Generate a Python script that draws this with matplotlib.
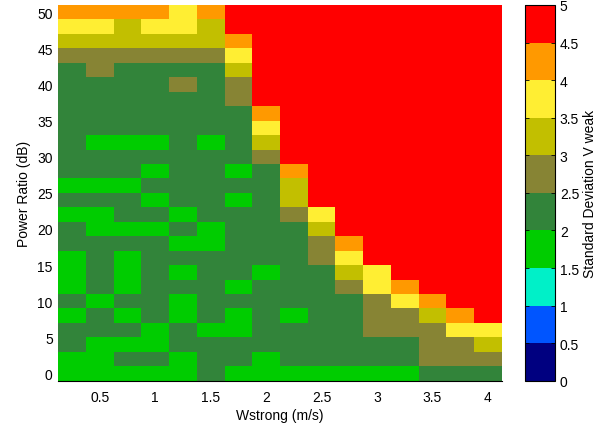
import numpy as np
import matplotlib
matplotlib.use("Agg")
import matplotlib.pyplot as plt
from matplotlib.colors import ListedColormap, BoundaryNorm
from matplotlib.ticker import FormatStrFormatter

plt.rcParams['font.family'] = ['Liberation Sans', 'DejaVu Sans']

# Standard deviation levels (middle of each colour band)
bg, dg, ol, yo, yl, orn, rd = 1.75, 2.25, 2.75, 3.25, 3.75, 4.25, 4.75

# Grid axes
wstrong = [0.25, 0.5, 0.75, 1.0, 1.25, 1.5, 1.75, 2.0,
           2.25, 2.5, 2.75, 3.0, 3.25, 3.5, 3.75, 4.0]
power_ratio = [0, 2, 4, 6, 8, 10, 12, 14, 16, 18, 20, 22, 24,
               26, 28, 30, 32, 34, 36, 38, 40, 42, 44, 46, 48, 50]

# Standard deviation of V weak, one row per power ratio (0 dB upward)
std_v_weak = [
    [bg, bg, bg, bg, bg, dg, bg, bg, bg, bg, bg, bg, bg, dg, dg, dg],  # 0
    [bg, bg, dg, dg, bg, dg, dg, bg, dg, dg, dg, dg, dg, ol, ol, ol],  # 2
    [dg, bg, bg, bg, dg, dg, dg, dg, dg, dg, dg, dg, dg, ol, ol, yo],  # 4
    [dg, dg, dg, bg, dg, bg, bg, dg, dg, dg, dg, ol, ol, ol, yl, yl],  # 6
    [bg, dg, bg, dg, bg, dg, bg, dg, bg, dg, dg, ol, ol, yo, orn, rd],  # 8
    [dg, bg, dg, dg, bg, dg, dg, dg, dg, dg, dg, ol, yl, orn, rd, rd],  # 10
    [bg, dg, bg, dg, dg, dg, bg, dg, dg, dg, ol, yl, orn, rd, rd, rd],  # 12
    [bg, dg, bg, dg, bg, dg, dg, bg, dg, dg, yo, yl, rd, rd, rd, rd],  # 14
    [bg, dg, bg, dg, dg, dg, dg, dg, dg, ol, yl, rd, rd, rd, rd, rd],  # 16
    [dg, dg, dg, dg, bg, bg, dg, dg, dg, ol, orn, rd, rd, rd, rd, rd],  # 18
    [dg, bg, bg, bg, dg, bg, dg, dg, dg, yo, rd, rd, rd, rd, rd, rd],  # 20
    [bg, bg, dg, dg, bg, dg, dg, dg, ol, yl, rd, rd, rd, rd, rd, rd],  # 22
    [dg, dg, dg, bg, dg, dg, bg, dg, yo, rd, rd, rd, rd, rd, rd, rd],  # 24
    [bg, bg, bg, dg, dg, dg, dg, dg, yo, rd, rd, rd, rd, rd, rd, rd],  # 26
    [dg, dg, dg, bg, dg, dg, bg, dg, orn, rd, rd, rd, rd, rd, rd, rd],  # 28
    [dg, dg, dg, dg, dg, dg, dg, ol, rd, rd, rd, rd, rd, rd, rd, rd],  # 30
    [dg, bg, bg, bg, dg, bg, dg, yo, rd, rd, rd, rd, rd, rd, rd, rd],  # 32
    [dg, dg, dg, dg, dg, dg, dg, yl, rd, rd, rd, rd, rd, rd, rd, rd],  # 34
    [dg, dg, dg, dg, dg, dg, dg, orn, rd, rd, rd, rd, rd, rd, rd, rd],  # 36
    [dg, dg, dg, dg, dg, dg, ol, rd, rd, rd, rd, rd, rd, rd, rd, rd],  # 38
    [dg, dg, dg, dg, ol, dg, ol, rd, rd, rd, rd, rd, rd, rd, rd, rd],  # 40
    [dg, ol, dg, dg, dg, dg, yo, rd, rd, rd, rd, rd, rd, rd, rd, rd],  # 42
    [ol, ol, ol, ol, ol, ol, yl, rd, rd, rd, rd, rd, rd, rd, rd, rd],  # 44
    [yo, yo, yo, yo, yo, yo, orn, rd, rd, rd, rd, rd, rd, rd, rd, rd],  # 46
    [yl, yl, yo, yl, yl, yo, rd, rd, rd, rd, rd, rd, rd, rd, rd, rd],  # 48
    [orn, orn, orn, orn, yl, orn, rd, rd, rd, rd, rd, rd, rd, rd, rd, rd],  # 50
]

# Ten-step colour scale from 0 to 5
band_colors = ['#000080', '#0055ff', '#00f0c8', '#00cc00', '#32843a',
               '#878434', '#c2bf00', '#ffee33', '#ff9900', '#ff0000']
levels = np.arange(0, 5.01, 0.5)

cmap = ListedColormap(band_colors)
norm = BoundaryNorm(levels, cmap.N)

FS = 10

fig = plt.figure(figsize=(6.11, 4.27), dpi=100)
ax = fig.add_axes([0.0954, 0.106, 0.7256, 0.880])

mesh = ax.pcolormesh(wstrong, power_ratio, np.array(std_v_weak),
                     cmap=cmap, norm=norm, shading='nearest', zorder=1)

# axis decorations sit underneath the coloured cells
ax.set_axisbelow(True)
ax.set_xticks([0.5, 1, 1.5, 2, 2.5, 3, 3.5, 4])
ax.set_yticks(np.arange(0, 51, 5))
ax.xaxis.set_major_formatter(FormatStrFormatter('%g'))
ax.tick_params(axis='x', direction='in', length=3, width=0.6,
               labelsize=FS, pad=7, top=False)
ax.tick_params(axis='y', direction='in', length=3, width=0.6,
               labelsize=FS, pad=4, right=False)
for side in ('left', 'top', 'right'):
    ax.spines[side].set_visible(False)
ax.spines['bottom'].set_linewidth(0.8)
ax.set_xlabel('Wstrong (m/s)', fontsize=FS, labelpad=2.5)
ax.set_ylabel('Power Ratio (dB)', fontsize=FS, labelpad=4.5)

cax = fig.add_axes([0.8597, 0.106, 0.0486, 0.880])
cb = fig.colorbar(mesh, cax=cax, ticks=levels)
cb.ax.yaxis.set_major_formatter(FormatStrFormatter('%g'))
cb.ax.tick_params(direction='in', length=3, width=0.6, labelsize=FS,
                  left=True, right=True, pad=3.5)
cb.outline.set_linewidth(0.8)
cb.set_label('Standard Deviation V weak', fontsize=FS, labelpad=3)

fig.savefig('out.png', dpi=100)
